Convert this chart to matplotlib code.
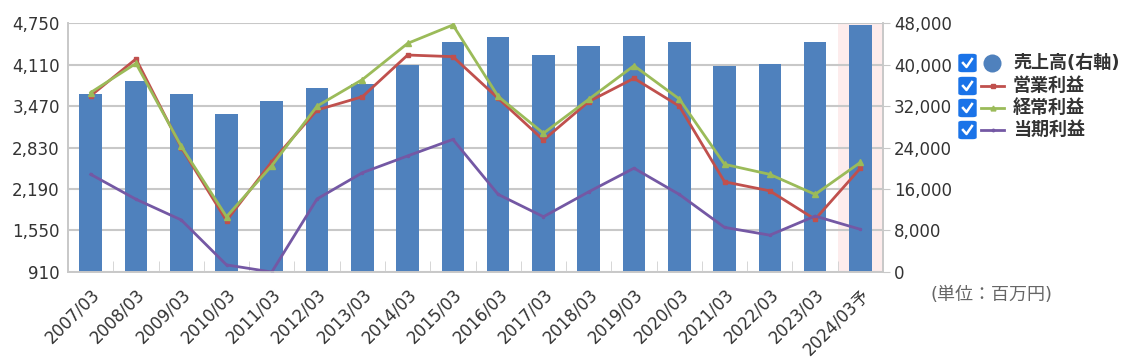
import matplotlib.pyplot as plt
from matplotlib.patches import FancyBboxPatch
from matplotlib.lines import Line2D
import numpy as np

plt.rcParams['font.family'] = ['DejaVu Sans', 'Noto Sans CJK JP']

# data
years = ['2007/03', '2008/03', '2009/03', '2010/03', '2011/03', '2012/03',
         '2013/03', '2014/03', '2015/03', '2016/03', '2017/03', '2018/03',
         '2019/03', '2020/03', '2021/03', '2022/03', '2023/03', '2024/03予']
sales = [34250, 36950, 34250, 30500, 32950, 35450, 36350, 40000, 44400, 45300,
         41800, 43550, 45600, 44400, 39850, 40100, 44400, 47750]
op_profit = [3630, 4200, 2830, 1700, 2610, 3410, 3615, 4260, 4235, 3590,
             2945, 3540, 3900, 3470, 2300, 2160, 1720, 2510]
ord_profit = [3680, 4130, 2850, 1760, 2550, 3470, 3880, 4440, 4725, 3620,
              3050, 3575, 4095, 3580, 2570, 2415, 2105, 2600]
net_profit = [2415, 2030, 1710, 1015, 905, 2035, 2440, 2700, 2955, 2105,
              1760, 2145, 2510, 2105, 1595, 1475, 1770, 1565]

left_ticks = [910, 1550, 2190, 2830, 3470, 4110, 4750]
right_ticks = [0, 8000, 16000, 24000, 32000, 40000, 48000]

blue = '#4f81bd'
red = '#c0504d'
green = '#9bbb59'
purple = '#7458a4'
grid_c = '#c8c8c8'
txt_c = '#333333'

fig = plt.figure(figsize=(11.23, 3.59), dpi=100)
ax = fig.add_axes([0.0606, 0.2432, 0.7257, 0.6918])
ax2 = ax.twinx()
ax.set_zorder(ax2.get_zorder() + 1)
ax.patch.set_visible(False)

x = np.arange(len(years))

# forecast band + bars on the right axis
ax2.axvspan(len(years) - 1.5, len(years) - 0.5, color='#fdecec', zorder=0, lw=0)
ax2.bar(x, sales, width=0.5, color=blue, zorder=2)
ax2.set_ylim(0, 48000)
ax2.set_yticks(right_ticks)
ax2.set_yticklabels([f'{v:,}' for v in right_ticks])
ax2.yaxis.grid(True, color=grid_c, lw=1.5, zorder=1)
ax2.set_axisbelow(True)
ax2.tick_params(axis='y', length=5, color=grid_c, labelsize=12, labelcolor=txt_c, pad=3)

# profit lines on the left axis
ax.plot(x, op_profit, color=red, lw=2, marker='s', ms=3.5)
ax.plot(x, ord_profit, color=green, lw=2, marker='^', ms=4)
ax.plot(x, net_profit, color=purple, lw=2, marker='.', ms=3)
ax.set_ylim(910, 4750)
ax.set_yticks(left_ticks)
ax.set_yticklabels([f'{v:,}' for v in left_ticks])
ax.tick_params(axis='y', length=0, labelsize=12, labelcolor=txt_c, pad=6)

ax.set_xlim(-0.5, len(years) - 0.5)
ax.set_xticks(x)
ax.set_xticklabels(years, rotation=45, ha='right', rotation_mode='anchor')
ax.tick_params(axis='x', length=0, labelsize=12, labelcolor=txt_c, pad=10)
ax.set_xticks(np.arange(0.5, len(years) - 1, 1), minor=True)
ax.tick_params(axis='x', which='minor', direction='in', length=8, color='#d0d0d0')

for a in (ax, ax2):
    a.spines['top'].set_visible(False)
    for s in ('left', 'right', 'bottom'):
        a.spines[s].set_color(grid_c)
        a.spines[s].set_linewidth(1.2)

# legend with checkboxes
labels = ['売上高(右軸)', '営業利益', '経常利益', '当期利益']
rows_y = [63, 86, 108, 130]
W, H = 1123, 359
for i, (lab, yy) in enumerate(zip(labels, rows_y)):
    fy = 1 - yy / H
    box = FancyBboxPatch((959 / W, fy - 8.5 / H), 17 / W, 17 / H,
                         boxstyle='round,pad=0,rounding_size=0.003',
                         transform=fig.transFigure, facecolor='#1a73e8',
                         edgecolor='#1a73e8', zorder=5)
    fig.patches.append(box)
    fig.lines.append(Line2D([963 / W, 966.5 / W, 972 / W],
                            [fy, fy - 4 / H, fy + 4 / H],
                            transform=fig.transFigure, color='white', lw=1.8, zorder=6))
    if i == 0:
        fig.lines.append(Line2D([992 / W], [fy], transform=fig.transFigure,
                                color=blue, marker='o', ms=13, mec='none'))
    else:
        c = [red, green, purple][i - 1]
        m = ['s', '^', '.'][i - 1]
        fig.lines.append(Line2D([981 / W, 1004 / W], [fy, fy], transform=fig.transFigure,
                                color=c, lw=2))
        fig.lines.append(Line2D([992.5 / W], [fy], transform=fig.transFigure, color=c,
                                marker=m, ms=3.5))
    fig.text(1013 / W, fy, lab, fontsize=13, fontweight='bold', color=txt_c,
             va='center', ha='left')

fig.text(930 / W, 1 - 295 / H, '(単位：百万円)', fontsize=13, color='#666666',
         va='center', ha='left')

fig.savefig('out.png', dpi=100)
